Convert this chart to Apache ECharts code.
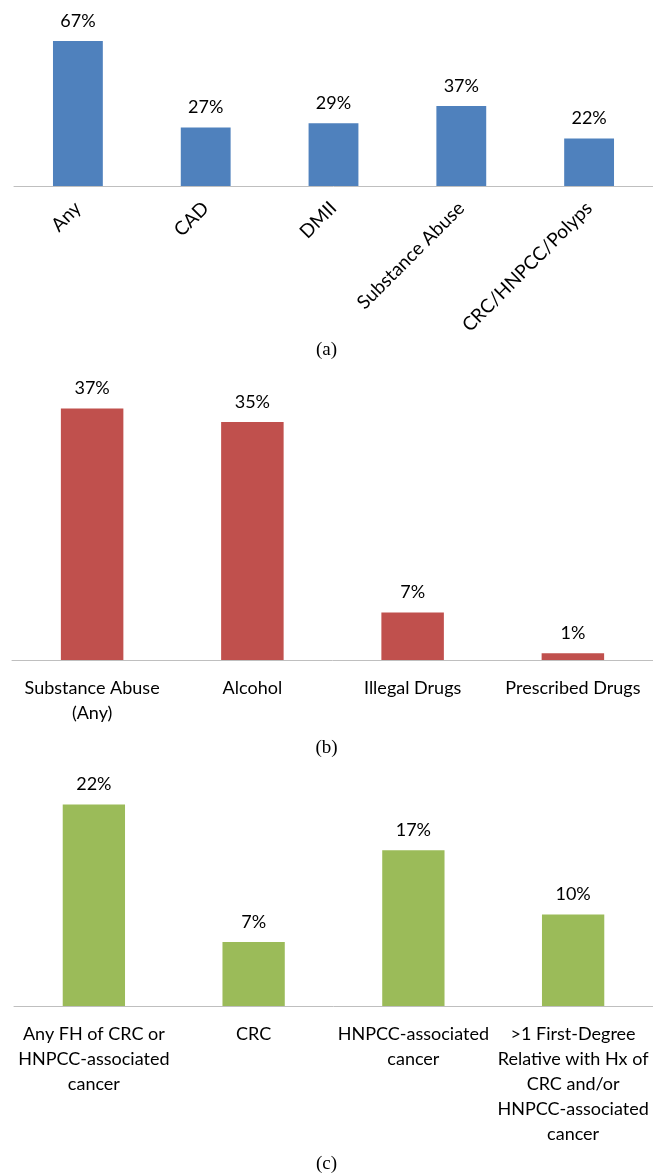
<!DOCTYPE html>
<html>
<head>
<meta charset="utf-8">
<script src="https://cdn.jsdelivr.net/npm/echarts@6/dist/echarts.min.js"></script>
<style>
  html, body { margin: 0; padding: 0; background: #fff; }
  #chart { width: 653px; height: 1174px; }
</style>
</head>
<body>
<div id="chart"></div>
<script>
// (a) comorbidities
var catsA = ['Any', 'CAD', 'DMII', 'Substance Abuse', 'CRC/HNPCC/Polyps'],
	valsA = [67, 27, 29, 37, 22];

// (b) substance abuse
var catsB = ['Substance Abuse\n(Any)', 'Alcohol', 'Illegal Drugs', 'Prescribed Drugs'],
	valsB = [37, 35, 7, 1];

// (c) family history
var catsC = ['Any FH of CRC or\nHNPCC-associated\ncancer', 'CRC', 'HNPCC-associated\ncancer',
		'>1 First-Degree\nRelative with Hx of\nCRC and/or\nHNPCC-associated\ncancer'],
	valsC = [22, 7, 17, 10];

var captions = ['(a)', '(b)', '(c)'];

var font = 'Lato',
	chart = echarts.init(document.getElementById('chart'));

function xAxisOf(idx, cats, rotate, margin, size){
	return {
		type: 'category',
		gridIndex: idx,
		data: cats,
		axisLine: { lineStyle: { color: '#bfbfbf', width: 1 } },
		axisTick: { show: false },
		axisLabel: {
			interval: 0,
			rotate: rotate,
			margin: margin,
			color: '#000',
			fontFamily: font,
			fontSize: size,
			lineHeight: 25
		}
	};
}

function yAxisOf(idx, max){
	return { type: 'value', gridIndex: idx, min: 0, max: max, show: false };
}

function barOf(idx, vals, color){
	return {
		type: 'bar',
		xAxisIndex: idx,
		yAxisIndex: idx,
		data: vals,
		barWidth: '39%',
		itemStyle: { color: color },
		label: {
			show: true,
			position: 'top',
			distance: 11,
			formatter: '{c}%',
			color: '#000',
			fontFamily: font,
			fontSize: 18
		}
	};
}

var option = {
	animation: false,
	title: [
		{ text: captions[0], left: 'center', top: 341 },
		{ text: captions[1], left: 'center', top: 739 },
		{ text: captions[2], left: 'center', top: 1155 }
	].map(function(t){
		t.textStyle = { fontFamily: 'Liberation Serif', fontSize: 19, fontWeight: 'normal', color: '#000' };
		t.padding = 0;
		return t;
	}),
	grid: [
		{ left: 14, top: 13, width: 640, height: 173 },
		{ left: 12, top: 388, width: 643, height: 272 },
		{ left: 14, top: 777, width: 639, height: 229 }
	],
	xAxis: [
		xAxisOf(0, catsA, 45, 19, 19),
		xAxisOf(1, catsB, 0, 16, 18),
		xAxisOf(2, catsC, 0, 16, 18)
	],
	yAxis: [
		yAxisOf(0, 80),
		yAxisOf(1, 40),
		yAxisOf(2, 25)
	],
	series: [
		barOf(0, valsA, '#4f81bd'),
		barOf(1, valsB, '#c0504d'),
		barOf(2, valsC, '#9bbb59')
	]
};

chart.setOption(option);
</script>
</body>
</html>
